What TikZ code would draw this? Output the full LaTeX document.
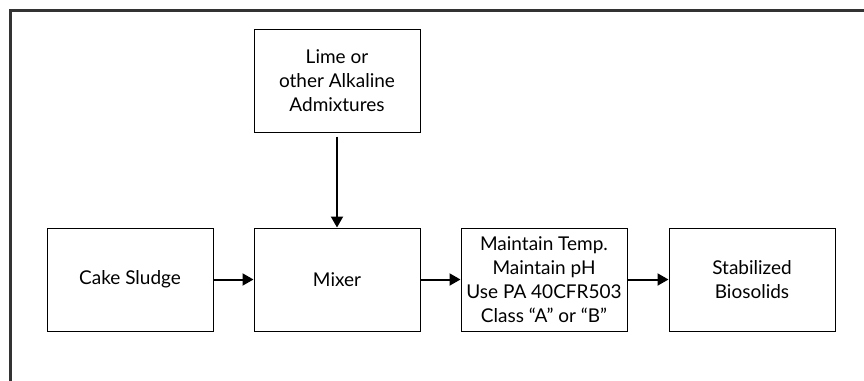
\documentclass[tikz,border=0pt]{standalone}
\usepackage{fontspec}
\setmainfont{Lato}
\usepackage{tikz}
\usetikzlibrary{arrows.meta,positioning}
\definecolor{framegray}{HTML}{333333}
\tikzset{
  stagebox/.style={
    rectangle, draw=black, line width=1pt, fill=white,
    minimum width=166pt, minimum height=103pt,
    align=center, inner sep=0pt, font=\fontsize{19}{24}\selectfont
  },
  flowarrow/.style={-{Triangle[length=11pt,width=12pt]}, line width=2pt, color=black},
}
\begin{document}
\begin{tikzpicture}[x=1pt, y=1pt, node distance=40pt]
  \useasboundingbox (0,0) rectangle (864,-380);
  % outer frame, cut by the page at right and bottom
  \draw[framegray, line width=3pt] (10.5,-381) -- (10.5,-10.5) -- (865,-10.5);

  \node[stagebox] (sludge) at (130,-279.5) {Cake Sludge};
  \node[stagebox, right=of sludge] (mixer) {Mixer};
  \node[stagebox, above=95pt of mixer] (lime) {Lime or\\other Alkaline\\Admixtures};
  \node[stagebox, right=of mixer] (treat) {Maintain Temp.\\Maintain pH\\Use PA 40CFR503\\Class “A” or “B”};
  \node[stagebox, right=41pt of treat] (biosolids) {Stabilized\\Biosolids};

  \draw[flowarrow] ([yshift=-4pt]lime.south) -- (mixer.north);
  \foreach \a/\b in {sludge/mixer,mixer/treat,treat/biosolids}
    \draw[flowarrow] (\a) -- (\b);
\end{tikzpicture}
\end{document}
